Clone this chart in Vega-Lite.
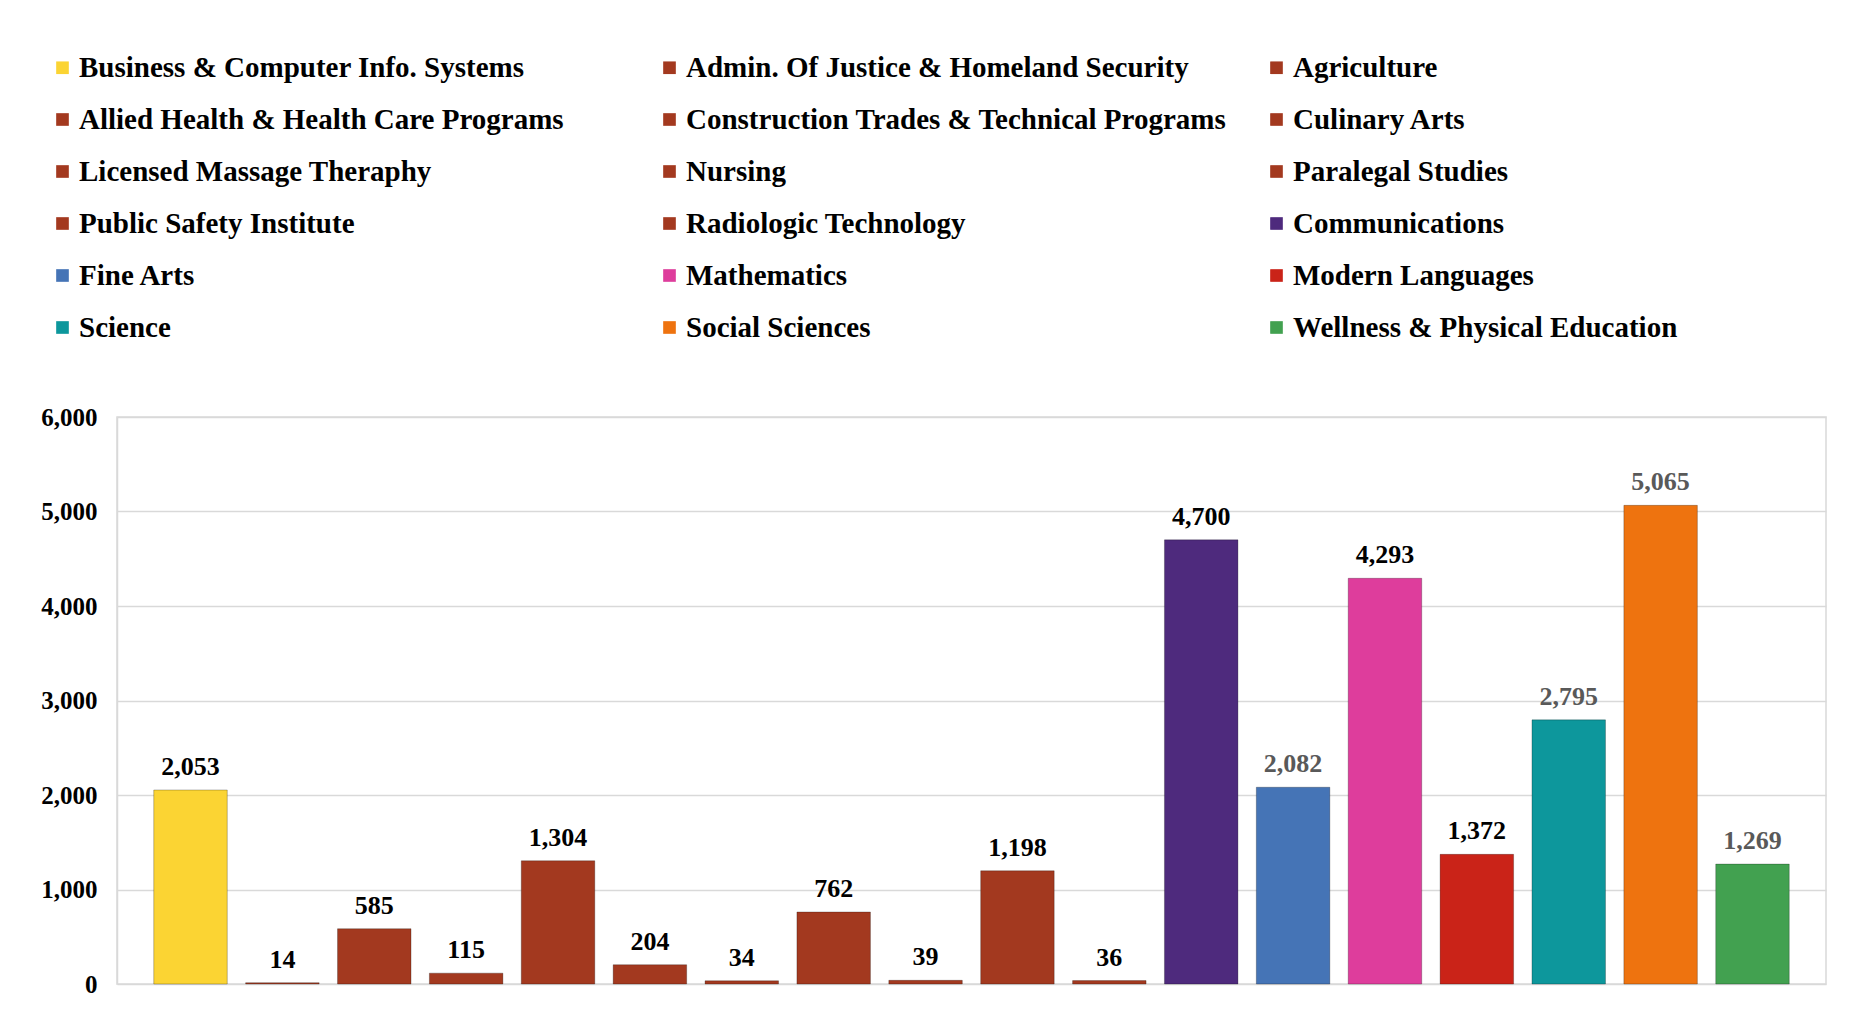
{
  "$schema": "https://vega.github.io/schema/vega-lite/v6.json",
  "width": 1709,
  "height": 567,
  "autosize": {"type": "none"},
  "padding": {"left": 117, "top": 417, "right": 32, "bottom": 26},
  "background": "white",
  "config": {"font": "Liberation Serif", "view": {"stroke": "#D9D9D9", "strokeWidth": 1.5}},
  "data": {"values": [
    {"program": "Business & Computer Info. Systems", "students": 2053},
    {"program": "Admin. Of Justice & Homeland Security", "students": 14},
    {"program": "Agriculture", "students": 585},
    {"program": "Allied Health & Health Care Programs", "students": 115},
    {"program": "Construction Trades & Technical Programs", "students": 1304},
    {"program": "Culinary Arts", "students": 204},
    {"program": "Licensed Massage Theraphy", "students": 34},
    {"program": "Nursing", "students": 762},
    {"program": "Paralegal Studies", "students": 39},
    {"program": "Public Safety Institute", "students": 1198},
    {"program": "Radiologic Technology", "students": 36},
    {"program": "Communications", "students": 4700},
    {"program": "Fine Arts", "students": 2082},
    {"program": "Mathematics", "students": 4293},
    {"program": "Modern Languages", "students": 1372},
    {"program": "Science", "students": 2795},
    {"program": "Social Sciences", "students": 5065},
    {"program": "Wellness & Physical Education", "students": 1269}
  ]},
  "encoding": {
    "x": {"field": "program", "type": "nominal", "sort": null, "axis": null,
          "scale": {"paddingInner": 0.2, "paddingOuter": 0.4}},
    "y": {"field": "students", "type": "quantitative",
          "scale": {"domain": [0, 6000]},
          "axis": {"values": [0, 1000, 2000, 3000, 4000, 5000, 6000], "format": ",.0f", "title": null,
                   "ticks": false, "labelPadding": 20, "labelFontSize": 25, "labelFontWeight": "bold",
                   "labelColor": "#000000", "labelFont": "Liberation Serif",
                   "gridColor": "#D9D9D9", "gridWidth": 1.5, "domainColor": "#D9D9D9", "domainWidth": 1.5}}
  },
  "layer": [
    {
      "mark": {"type": "bar", "stroke": "rgba(0,0,0,0.25)", "strokeWidth": 1},
      "encoding": {
        "color": {"field": "program", "type": "nominal", "sort": null,
          "scale": {
            "domain": ["Business & Computer Info. Systems", "Admin. Of Justice & Homeland Security", "Agriculture", "Allied Health & Health Care Programs", "Construction Trades & Technical Programs", "Culinary Arts", "Licensed Massage Theraphy", "Nursing", "Paralegal Studies", "Public Safety Institute", "Radiologic Technology", "Communications", "Fine Arts", "Mathematics", "Modern Languages", "Science", "Social Sciences", "Wellness & Physical Education"],
            "range": ["#FBD433", "#A3391F", "#A3391F", "#A3391F", "#A3391F", "#A3391F", "#A3391F", "#A3391F", "#A3391F", "#A3391F", "#A3391F", "#4E2A7D", "#4574B6", "#DE3D9C", "#CA2318", "#0D979C", "#EE730F", "#42A150"]
          },
          "legend": {"title": null, "orient": "none", "direction": "horizontal", "legendX": -69, "legendY": -364,
            "columns": 3, "gridAlign": "all", "columnPadding": 35, "rowPadding": 22,
            "symbolType": "square", "symbolSize": 160, "symbolStrokeWidth": 0,
            "labelFontSize": 29, "labelFont": "Liberation Serif", "labelFontWeight": "bold",
            "labelColor": "#000000", "labelLimit": 800, "labelOffset": 2, "padding": 0}
        }
      }
    },
    {
      "mark": {"type": "text", "baseline": "middle", "dy": -23, "fontSize": 26, "fontWeight": "bold", "font": "Liberation Serif"},
      "encoding": {
        "text": {"field": "students", "type": "quantitative", "format": ","},
        "color": {"condition": {"test": "indexof(['Fine Arts','Science','Social Sciences','Wellness & Physical Education'], datum.program) >= 0", "value": "#595959"}, "value": "#000000"}
      }
    }
  ]
}
